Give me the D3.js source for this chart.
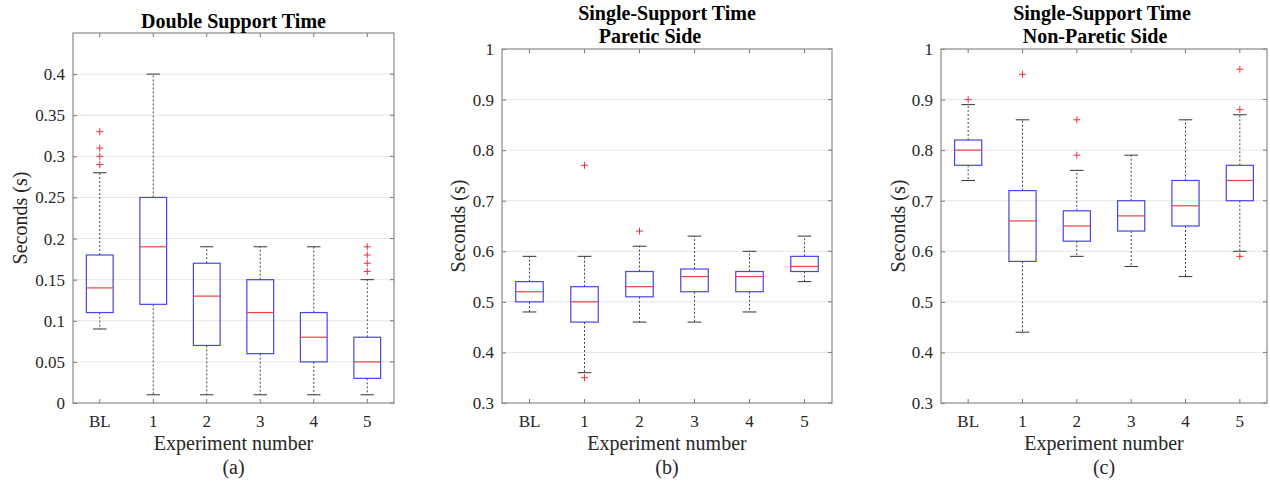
<!DOCTYPE html>
<html>
<head>
<meta charset="utf-8">
<script src="https://cdn.jsdelivr.net/npm/d3@7"></script>
<style>
  body { margin: 0; background: #fff; }
  svg text { font-family: "Liberation Serif", "Times New Roman", serif; fill: #262626; }
</style>
</head>
<body>
<div id="chart"></div>
<script>
// categories on the x axis (same for all three panels)
var categories = ["BL", "1", "2", "3", "4", "5"];

// box stats per experiment: [lower whisker, q1, median, q3, upper whisker]
var doubleStats = [
  [0.09, 0.11, 0.14, 0.18, 0.28],
  [0.01, 0.12, 0.19, 0.25, 0.40],
  [0.01, 0.07, 0.13, 0.17, 0.19],
  [0.01, 0.06, 0.11, 0.15, 0.19],
  [0.01, 0.05, 0.08, 0.11, 0.19],
  [0.01, 0.03, 0.05, 0.08, 0.15]
];
var doubleOutliers = [[0.29, 0.30, 0.31, 0.33], [], [], [], [], [0.16, 0.17, 0.18, 0.19]];

var pareticStats = [
  [0.48, 0.50, 0.52, 0.54, 0.59],
  [0.36, 0.46, 0.50, 0.53, 0.59],
  [0.46, 0.51, 0.53, 0.56, 0.61],
  [0.46, 0.52, 0.55, 0.565, 0.63],
  [0.48, 0.52, 0.55, 0.56, 0.60],
  [0.54, 0.56, 0.57, 0.59, 0.63]
];
var pareticOutliers = [[], [0.35, 0.77], [0.64], [], [], []];

var nonPareticStats = [
  [0.74, 0.77, 0.80, 0.82, 0.89],
  [0.44, 0.58, 0.66, 0.72, 0.86],
  [0.59, 0.62, 0.65, 0.68, 0.76],
  [0.57, 0.64, 0.67, 0.70, 0.79],
  [0.55, 0.65, 0.69, 0.74, 0.86],
  [0.60, 0.70, 0.74, 0.77, 0.87]
];
var nonPareticOutliers = [[0.90], [0.95], [0.79, 0.86], [], [], [0.59, 0.88, 0.96]];

// tick values
var doubleTicks = [0, 0.05, 0.1, 0.15, 0.2, 0.25, 0.3, 0.35, 0.4];
var singleTicks = [0.3, 0.4, 0.5, 0.6, 0.7, 0.8, 0.9, 1];

var serif = '"Liberation Serif", "Times New Roman", serif';

var svg = d3.select("#chart").append("svg")
    .attr("width", 1270)
    .attr("height", 483);

var panels = [
  { stats: doubleStats, outliers: doubleOutliers, ticks: doubleTicks, domain: [0, 0.45],
    left: 73, right: 394, top: 33, bottom: 403, ylabelX: 20,
    title: [{ text: "Double Support Time", y: 28, dx: 0 }], tag: "(a)" },
  { stats: pareticStats, outliers: pareticOutliers, ticks: singleTicks, domain: [0.3, 1],
    left: 502, right: 832, top: 49, bottom: 403, ylabelX: 458,
    title: [{ text: "Single-Support Time", y: 20, dx: 0 }, { text: "Paretic Side", y: 43, dx: -17 }], tag: "(b)" },
  { stats: nonPareticStats, outliers: nonPareticOutliers, ticks: singleTicks, domain: [0.3, 1],
    left: 941, right: 1267, top: 49, bottom: 403, ylabelX: 898,
    title: [{ text: "Single-Support Time", y: 20, dx: -2 }, { text: "Non-Paretic Side", y: 43, dx: -9 }], tag: "(c)" }
];

panels.forEach(function(p) { drawPanel(p); });

function drawPanel(p) {
  var x = d3.scaleBand().domain(categories).range([p.left, p.right]);
  var y = d3.scaleLinear().domain(p.domain).range([p.bottom, p.top]);
  var cx = function(i) { return x(categories[i]) + x.bandwidth() / 2; };
  var boxHalf = x.bandwidth() * 0.25;
  var capHalf = boxHalf / 2;
  var midX = (p.left + p.right) / 2;

  var g = svg.append("g").attr("class", "panel");

  // grid lines
  g.append("g").attr("class", "grid")
    .selectAll("line")
    .data(p.ticks.filter(function(t) { return y(t) < p.bottom - 1 && y(t) > p.top + 1; }))
    .enter().append("line")
      .attr("x1", p.left).attr("x2", p.right)
      .attr("y1", function(d) { return y(d); })
      .attr("y2", function(d) { return y(d); })
      .attr("stroke", "#e6e6e6")
      .attr("stroke-width", 1);

  // left and bottom axes via d3 (ticks inside)
  var yAxis = d3.axisLeft(y).tickValues(p.ticks).tickSize(-4).tickPadding(8)
      .tickFormat(function(d) { return d3.format("~g")(d); });
  var ga = g.append("g").attr("transform", "translate(" + p.left + ",0)").call(yAxis)
      .attr("font-family", serif).attr("font-size", 17);
  ga.select(".domain").remove();
  ga.selectAll("line").attr("stroke", "#777");
  ga.selectAll("text").style("font-family", serif).style("font-size", "17px").attr("fill", "#262626");

  var xAxis = d3.axisBottom(x).tickSize(-4).tickPadding(12);
  var gx = g.append("g").attr("transform", "translate(0," + p.bottom + ")").call(xAxis)
      .attr("font-family", serif).attr("font-size", 17);
  gx.select(".domain").remove();
  gx.selectAll("line").attr("stroke", "#777");
  gx.selectAll("text").style("font-family", serif).style("font-size", "17px").attr("fill", "#262626");

  // mirrored ticks on the top and right edges
  g.append("g").selectAll("line").data(categories).enter().append("line")
      .attr("x1", function(d) { return x(d) + x.bandwidth() / 2; })
      .attr("x2", function(d) { return x(d) + x.bandwidth() / 2; })
      .attr("y1", p.top).attr("y2", p.top + 4)
      .attr("stroke", "#777");
  g.append("g").selectAll("line").data(p.ticks).enter().append("line")
      .attr("x1", p.right).attr("x2", p.right - 4)
      .attr("y1", function(d) { return y(d); })
      .attr("y2", function(d) { return y(d); })
      .attr("stroke", "#777");

  // axes box
  g.append("rect")
      .attr("x", p.left).attr("y", p.top)
      .attr("width", p.right - p.left).attr("height", p.bottom - p.top)
      .attr("fill", "none").attr("stroke", "#8a8a8a").attr("stroke-width", 1.2);

  var boxes = g.append("g").selectAll("g.box")
    .data(p.stats)
    .enter().append("g").attr("class", "box");

  // whiskers (dashed)
  boxes.append("line")
      .attr("x1", function(d, i) { return cx(i); }).attr("x2", function(d, i) { return cx(i); })
      .attr("y1", function(d) { return y(d[3]); }).attr("y2", function(d) { return y(d[4]); })
      .attr("stroke", "#444").attr("stroke-dasharray", "2,2");
  boxes.append("line")
      .attr("x1", function(d, i) { return cx(i); }).attr("x2", function(d, i) { return cx(i); })
      .attr("y1", function(d) { return y(d[1]); }).attr("y2", function(d) { return y(d[0]); })
      .attr("stroke", "#444").attr("stroke-dasharray", "2,2");

  // whisker caps
  boxes.append("line")
      .attr("x1", function(d, i) { return cx(i) - capHalf; }).attr("x2", function(d, i) { return cx(i) + capHalf; })
      .attr("y1", function(d) { return y(d[4]); }).attr("y2", function(d) { return y(d[4]); })
      .attr("stroke", "#333");
  boxes.append("line")
      .attr("x1", function(d, i) { return cx(i) - capHalf; }).attr("x2", function(d, i) { return cx(i) + capHalf; })
      .attr("y1", function(d) { return y(d[0]); }).attr("y2", function(d) { return y(d[0]); })
      .attr("stroke", "#333");

  // box
  boxes.append("rect")
      .attr("x", function(d, i) { return cx(i) - boxHalf; })
      .attr("y", function(d) { return y(d[3]); })
      .attr("width", boxHalf * 2)
      .attr("height", function(d) { return y(d[1]) - y(d[3]); })
      .attr("fill", "none").attr("stroke", "#4646e8").attr("stroke-width", 1.2);

  // median
  boxes.append("line")
      .attr("x1", function(d, i) { return cx(i) - boxHalf; }).attr("x2", function(d, i) { return cx(i) + boxHalf; })
      .attr("y1", function(d) { return y(d[2]); }).attr("y2", function(d) { return y(d[2]); })
      .attr("stroke", "#f04040").attr("stroke-width", 1.2);

  // outliers as red plus markers
  var pts = [];
  p.outliers.forEach(function(list, i) { list.forEach(function(v) { pts.push({ i: i, v: v }); }); });
  g.append("g").selectAll("path").data(pts).enter().append("path")
      .attr("d", function(d) {
        var px = cx(d.i), py = y(d.v), s = 3.5;
        return "M" + (px - s) + "," + py + "H" + (px + s) + "M" + px + "," + (py - s) + "V" + (py + s);
      })
      .attr("stroke", "#f03030").attr("stroke-width", 1);

  // titles
  g.selectAll("text.title").data(p.title).enter().append("text")
      .attr("class", "title")
      .attr("x", function(d) { return midX + d.dx; })
      .attr("y", function(d) { return d.y; })
      .attr("text-anchor", "middle")
      .style("font-family", serif)
      .style("font-size", "20px").style("font-weight", "bold")
      .style("fill", "#000")
      .text(function(d) { return d.text; });

  // axis labels
  g.append("text")
      .attr("transform", "translate(" + p.ylabelX + "," + ((p.top + p.bottom) / 2) + ") rotate(-90)")
      .attr("text-anchor", "middle")
      .attr("dy", "0.35em")
      .style("font-family", serif)
      .style("font-size", "20px")
      .text("Seconds (s)");
  g.append("text")
      .attr("x", midX).attr("y", 450)
      .attr("text-anchor", "middle")
      .style("font-family", serif)
      .style("font-size", "20px")
      .text("Experiment number");
  g.append("text")
      .attr("x", midX).attr("y", 474)
      .attr("text-anchor", "middle")
      .style("font-family", serif)
      .style("font-size", "20px")
      .text(p.tag);
}
</script>
</body>
</html>
